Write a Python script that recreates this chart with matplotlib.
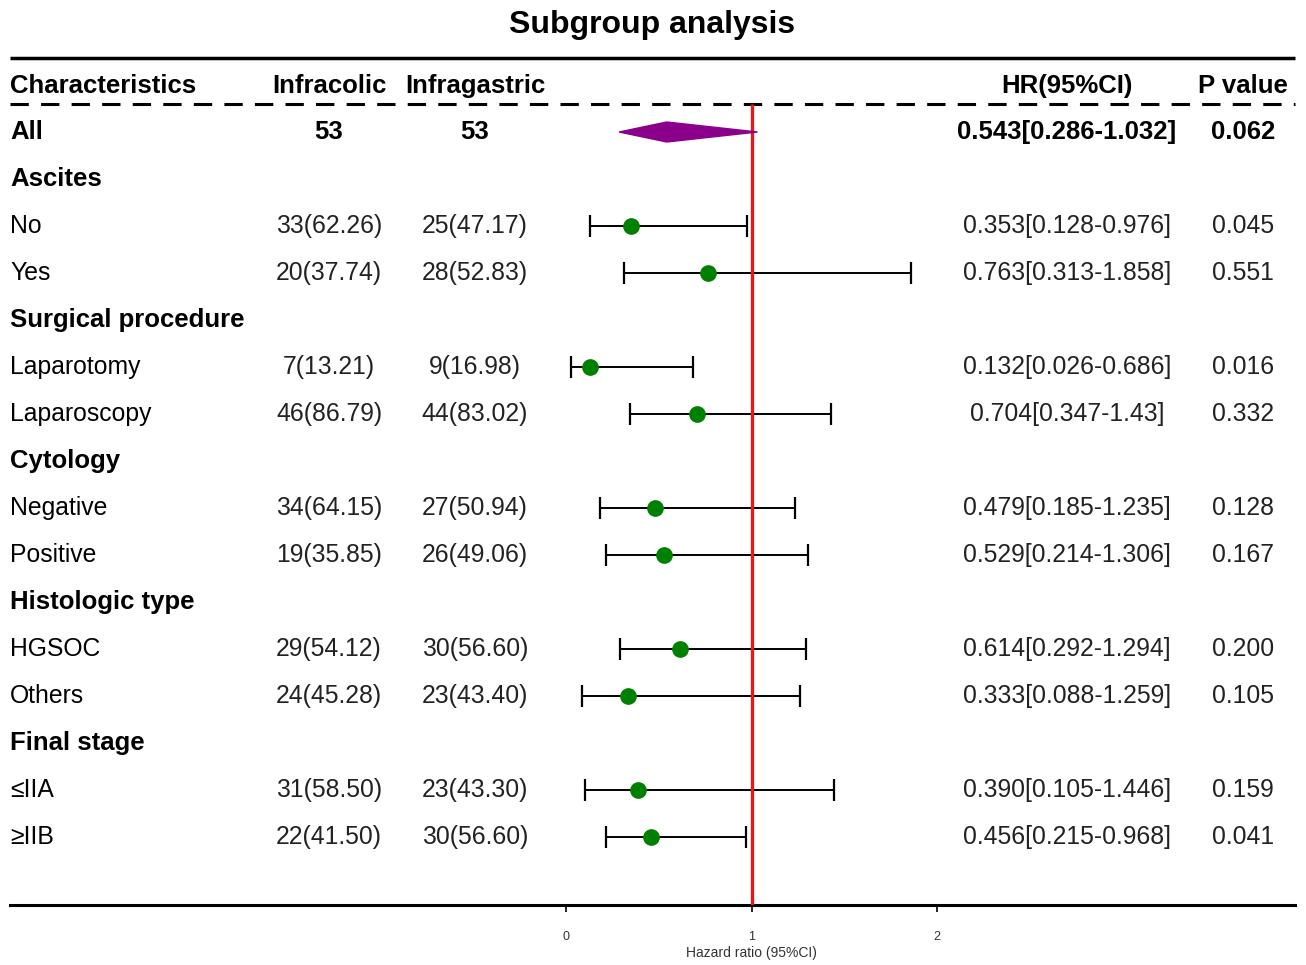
import numpy as np
import matplotlib.pyplot as plt
from matplotlib.patches import Polygon

plt.rcParams['font.family'] = ['Liberation Sans', 'DejaVu Sans']

# rows of the table, top to bottom
labels = ["All", "Ascites", "No", "Yes", "Surgical procedure", "Laparotomy", "Laparoscopy",
          "Cytology", "Negative", "Positive", "Histologic type", "HGSOC", "Others",
          "Final stage", "≤IIA", "≥IIB"]
bold_rows = [True, True, False, False, True, False, False, True, False, False,
             True, False, False, True, False, False]
infracolic = ["53", "", "33(62.26)", "20(37.74)", "", "7(13.21)", "46(86.79)", "",
              "34(64.15)", "19(35.85)", "", "29(54.12)", "24(45.28)", "", "31(58.50)", "22(41.50)"]
infragastric = ["53", "", "25(47.17)", "28(52.83)", "", "9(16.98)", "44(83.02)", "",
                "27(50.94)", "26(49.06)", "", "30(56.60)", "23(43.40)", "", "23(43.30)", "30(56.60)"]
hr = [0.543, np.nan, 0.353, 0.763, np.nan, 0.132, 0.704, np.nan, 0.479, 0.529,
      np.nan, 0.614, 0.333, np.nan, 0.390, 0.456]
lo = [0.286, np.nan, 0.128, 0.313, np.nan, 0.026, 0.347, np.nan, 0.185, 0.214,
      np.nan, 0.292, 0.088, np.nan, 0.105, 0.215]
hi = [1.032, np.nan, 0.976, 1.858, np.nan, 0.686, 1.43, np.nan, 1.235, 1.306,
      np.nan, 1.294, 1.259, np.nan, 1.446, 0.968]
hr_text = ["0.543[0.286-1.032]", "", "0.353[0.128-0.976]", "0.763[0.313-1.858]", "",
           "0.132[0.026-0.686]", "0.704[0.347-1.43]", "", "0.479[0.185-1.235]",
           "0.529[0.214-1.306]", "", "0.614[0.292-1.294]", "0.333[0.088-1.259]", "",
           "0.390[0.105-1.446]", "0.456[0.215-0.968]"]
p_text = ["0.062", "", "0.045", "0.551", "", "0.016", "0.332", "", "0.128", "0.167",
          "", "0.200", "0.105", "", "0.159", "0.041"]
headers = ["Characteristics", "Infracolic", "Infragastric", "HR(95%CI)", "P value"]

# layout: x0 = pixel of HR 0, scale = pixels per HR unit
X0, SCALE = 566, 185.5
def px(p):
    return (p - X0) / SCALE

fig = plt.figure(figsize=(13.06, 9.65), dpi=100)
ax = fig.add_axes([0, 60 / 965, 1, 905 / 965])
ax.set_xlim(px(0), px(1306))
ax.set_ylim(905, 0)
for s in ['top', 'left', 'right']:
    ax.spines[s].set_visible(False)
ax.spines['bottom'].set_linewidth(2.2)
ax.spines['bottom'].set_bounds(px(10), px(1295))
ax.set_yticks([])
ax.set_xticks([0, 1, 2])
ax.tick_params(axis='x', length=5, width=1.2, labelsize=9, pad=14, labelcolor='#333333')
ax.set_xlabel("Hazard ratio (95%CI)", fontsize=10, color='#333333')
ax.xaxis.set_label_coords(751 / 1306, -41 / 905)

fs_b = 18.5
fs_n = 17.8
col_x = [10, 329, 475, 1067, 1243]
col_ha = ['left', 'center', 'center', 'center', 'center']

ax.text(px(652), 25, "Subgroup analysis", ha='center', va='center', fontsize=23, fontweight='bold')
ax.hlines(58, px(10), px(1295), color='black', lw=2.5)
ax.hlines(104, px(10), px(1295), color='black', lw=2.2, linestyles=(0, (6, 4)))
for h, x, ha in zip(headers, col_x, col_ha):
    ax.text(px(x), 86, h, ha=ha, va='center', fontsize=fs_b, fontweight='bold')

ys = 132 + 47 * np.arange(len(labels))
for i, y in enumerate(ys):
    b = bold_rows[i]
    w = 'bold' if b else 'normal'
    fs = fs_b if b else fs_n
    ax.text(px(10), y, labels[i], ha='left', va='center', fontsize=fs, fontweight=w)
    for txt, x in zip([infracolic[i], infragastric[i], hr_text[i], p_text[i]], col_x[1:]):
        if txt:
            ax.text(px(x), y, txt, ha='center', va='center', fontsize=fs, fontweight=w,
                    color='black' if b else '#222222')

# forest marks
ax.vlines(1, 104, 905, color='#e31a1c', lw=2.4, zorder=3)
diamond = Polygon([[lo[0], ys[0]], [hr[0], ys[0] - 10], [hi[0], ys[0]], [hr[0], ys[0] + 10]],
                  closed=True, color='#8b008b', zorder=4)
ax.add_patch(diamond)
for i in range(1, len(labels)):
    if np.isnan(hr[i]):
        continue
    ax.errorbar(hr[i], ys[i], xerr=[[hr[i] - lo[i]], [hi[i] - hr[i]]], fmt='none',
                ecolor='black', elinewidth=1.4, capsize=8, capthick=1.6, zorder=2)
    ax.plot(hr[i], ys[i], 'o', color='#008000', ms=11, zorder=5)

fig.savefig("out.png", dpi=100)
